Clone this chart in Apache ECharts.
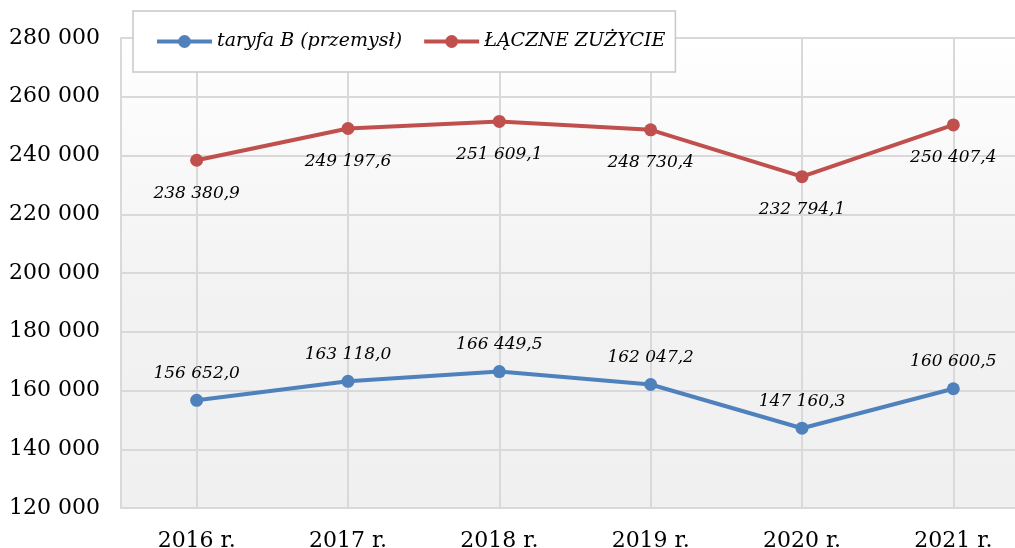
<!DOCTYPE html>
<html>
<head>
<meta charset="utf-8">
<script src="https://cdn.jsdelivr.net/npm/echarts@6/dist/echarts.min.js"></script>
<style>
  html, body { margin: 0; padding: 0; background: #ffffff; }
  #main { width: 1015px; height: 548px; }
</style>
</head>
<body>
<div id="main"></div>
<script>
var YEARS = ['2016 r.', '2017 r.', '2018 r.', '2019 r.', '2020 r.', '2021 r.'];
var TARYFA_B = [156652.0, 163118.0, 166449.5, 162047.2, 147160.3, 160600.5];
var LACZNE = [238380.9, 249197.6, 251609.1, 248730.4, 232794.1, 250407.4];
var SERIES_NAMES = ['taryfa B (przemysł)', 'ŁĄCZNE ZUŻYCIE'];
var COLORS = ['#4f81bd', '#c0504d'];

var FONT = 'DejaVu Serif';

// 280000 -> "280 000"
function fmtInt(v) {
    return String(Math.round(v)).replace(/\B(?=(\d{3})+(?!\d))/g, ' ');
}
// 238380.9 -> "238 380,9"
function fmtDec(v) {
    var parts = v.toFixed(1).split('.');
    return parts[0].replace(/\B(?=(\d{3})+(?!\d))/g, ' ') + ',' + parts[1];
}

var myChart = echarts.init(document.getElementById('main'));

var labelStyle = {
    show: true,
    fontFamily: FONT,
    fontStyle: 'italic',
    fontSize: 17,
    color: '#000000',
    formatter: function (p) { return fmtDec(p.value); }
};

var option = {
    animation: false,
    backgroundColor: '#ffffff',
    legend: {
        left: 133,
        top: 11,
        padding: [21, 10, 21, 22],
        itemWidth: 55,
        itemHeight: 16,
        itemGap: 20,
        backgroundColor: '#ffffff',
        borderColor: '#c8c8c8',
        borderWidth: 1.5,
        lineStyle: { width: 4 },
        textStyle: { fontFamily: FONT, fontStyle: 'italic', fontSize: 19, color: '#000000' },
        data: SERIES_NAMES
    },
    grid: {
        left: 121,
        width: 908,
        top: 38,
        bottom: 40,
        outerBoundsMode: 'none',
        show: true,
        borderWidth: 0,
        backgroundColor: {
            type: 'linear', x: 0, y: 0, x2: 0, y2: 1,
            colorStops: [
                { offset: 0, color: '#ffffff' },
                { offset: 0.55, color: '#f2f2f2' },
                { offset: 1, color: '#f0f0f0' }
            ]
        }
    },
    xAxis: {
        type: 'category',
        data: YEARS,
        boundaryGap: true,
        axisLine: { lineStyle: { color: '#d9d9d9', width: 2 } },
        axisTick: { show: false },
        splitLine: { show: true, alignWithLabel: true, lineStyle: { color: '#d9d9d9', width: 2 } },
        axisLabel: { fontFamily: FONT, fontSize: 22, color: '#000000', margin: 22 }
    },
    yAxis: {
        type: 'value',
        min: 120000,
        max: 280000,
        interval: 20000,
        axisLine: { show: true, lineStyle: { color: '#d9d9d9', width: 2 } },
        axisTick: { show: false },
        splitLine: { lineStyle: { color: '#d9d9d9', width: 2 } },
        axisLabel: {
            fontFamily: FONT, fontSize: 22, color: '#000000', margin: 21,
            formatter: function (v) { return fmtInt(v); }
        }
    },
    series: [
        {
            name: SERIES_NAMES[0],
            type: 'line',
            data: TARYFA_B,
            color: COLORS[0],
            symbol: 'circle',
            symbolSize: 13,
            lineStyle: { width: 4 },
            label: Object.assign({ position: 'top', distance: 12 }, labelStyle)
        },
        {
            name: SERIES_NAMES[1],
            type: 'line',
            data: LACZNE,
            color: COLORS[1],
            symbol: 'circle',
            symbolSize: 13,
            lineStyle: { width: 4 },
            label: Object.assign({ position: 'bottom', distance: 18 }, labelStyle)
        }
    ]
};
myChart.setOption(option);
</script>
</body>
</html>
